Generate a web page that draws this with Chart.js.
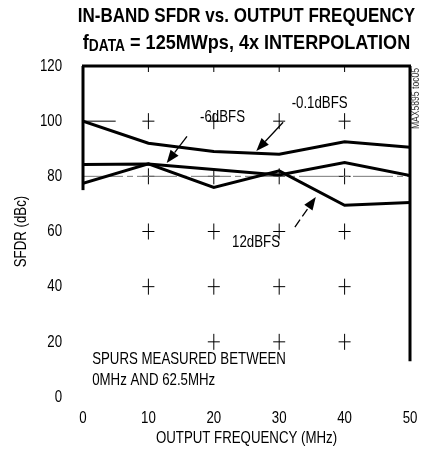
<!DOCTYPE html>
<html>
<head>
<meta charset="utf-8">
<script src="https://cdn.jsdelivr.net/npm/chart.js@4.4.1/dist/chart.umd.min.js"></script>
<style>
  html, body { margin: 0; padding: 0; background: #fff; }
  #wrap { width: 423px; height: 458px; position: relative; }
</style>
</head>
<body>
<div id="wrap"><canvas id="sfdrChart" width="423" height="458"></canvas></div>
<script>
// ======================================
// Data
// ======================================
const freqMHz = [0, 10, 20, 30, 40, 50];
const sfdrMinus01 = [100, 92, 89, 88, 92.5, 90.5];
const sfdrMinus6 = [84.3, 84.5, 82.5, 80.5, 85, 80.3];
const sfdrMinus12 = [77.5, 84.5, 76, 82, 69.5, 70.5];
const xTicks = [0, 10, 20, 30, 40, 50];
const yTicks = [0, 20, 40, 60, 80, 100, 120];

const FONT = "'Liberation Sans', Arial, sans-serif";
const SQUEEZE = 0.78;   // the original uses a narrow face

function toPoints(xs, ys) {
    return xs.map((x, i) => ({ x: x, y: ys[i] }));
}

// narrow text: regular face squeezed horizontally
function narrowText(ctx, text, x, y, size, opts) {
    opts = opts || {};
    const sx = opts.sx || SQUEEZE;
    ctx.save();
    ctx.font = (opts.bold ? 'bold ' : '') + size + 'px ' + FONT;
    ctx.textBaseline = 'middle';
    ctx.textAlign = opts.align || 'left';
    ctx.fillStyle = opts.color || '#000';
    ctx.translate(x, y);
    if (opts.rotate) ctx.rotate(opts.rotate);
    ctx.scale(sx, 1);
    ctx.fillText(text, 0, 0);
    ctx.restore();
}

function arrow(ctx, x1, y1, x2, y2, dashed) {
    const ang = Math.atan2(y2 - y1, x2 - x1);
    const len = 13, wid = 5;
    const bx = x2 - len * Math.cos(ang), by = y2 - len * Math.sin(ang);
    ctx.save();
    ctx.strokeStyle = '#000';
    ctx.fillStyle = '#000';
    ctx.lineWidth = 1.3;
    if (dashed) ctx.setLineDash([9, 4]);
    ctx.beginPath();
    ctx.moveTo(x1, y1);
    ctx.lineTo(bx, by);
    ctx.stroke();
    ctx.setLineDash([]);
    ctx.beginPath();
    ctx.moveTo(x2, y2);
    ctx.lineTo(bx + wid * Math.sin(ang), by - wid * Math.cos(ang));
    ctx.lineTo(bx - wid * Math.sin(ang), by + wid * Math.cos(ang));
    ctx.closePath();
    ctx.fill();
    ctx.restore();
}

// ======================================
// Decorations: frame, grid crosses, labels, arrows
// ======================================
const decorPlugin = {
    id: 'decor',
    beforeDatasetsDraw(chart) {
        const ctx = chart.ctx;
        const xs = chart.scales.x, ys = chart.scales.y;
        const X = v => xs.getPixelForValue(v);
        const Y = v => ys.getPixelForValue(v);
        ctx.save();
        // crosses at grid intersections (what survived on the scan)
        ctx.strokeStyle = '#000';
        ctx.lineWidth = 1;
        for (const gx of [10, 20, 30, 40]) {
            for (const gy of [20, 40, 60, 80, 100]) {
                if (gx === 10 && gy === 20) continue;
                ctx.beginPath();
                ctx.moveTo(X(gx) - 6, Y(gy));
                ctx.lineTo(X(gx) + 6, Y(gy));
                ctx.moveTo(X(gx), Y(gy) - 8);
                ctx.lineTo(X(gx), Y(gy) + 8);
                ctx.stroke();
            }
            // stubs hanging from the top border
            ctx.beginPath();
            ctx.moveTo(X(gx), Y(120));
            ctx.lineTo(X(gx), Y(120) + 6);
            ctx.stroke();
        }
        // faint gridline at 80 and a stub at 100
        ctx.strokeStyle = '#777';
        ctx.setLineDash([40, 4, 6, 4]);
        ctx.beginPath();
        ctx.moveTo(X(0), Y(80));
        ctx.lineTo(X(50), Y(80));
        ctx.stroke();
        ctx.setLineDash([]);
        ctx.strokeStyle = '#000';
        ctx.beginPath();
        ctx.moveTo(X(0), Y(100));
        ctx.lineTo(X(5), Y(100));
        ctx.stroke();
        // frame pieces
        ctx.lineWidth = 3;
        ctx.beginPath();
        ctx.moveTo(X(0) - 1, Y(120));
        ctx.lineTo(X(50) + 1, Y(120));
        ctx.stroke();
        ctx.beginPath();
        ctx.moveTo(X(0), Y(120));
        ctx.lineTo(X(0), Y(75));
        ctx.stroke();
        ctx.beginPath();
        ctx.moveTo(X(50), Y(120));
        ctx.lineTo(X(50), Y(13));
        ctx.stroke();
        ctx.restore();
    },
    afterDraw(chart) {
        const ctx = chart.ctx;
        const area = chart.chartArea;
        const xs = chart.scales.x, ys = chart.scales.y;
        const X = v => xs.getPixelForValue(v);
        const Y = v => ys.getPixelForValue(v);
        const cx = (area.left + area.right) / 2;

        // tick labels from the scales
        xs.ticks.forEach(t => narrowText(ctx, String(t.value), X(t.value), 418, 17, { align: 'center' }));
        ys.ticks.forEach(t => narrowText(ctx, String(t.value), 62, Y(t.value), 17, { align: 'right' }));

        // title, line 1
        narrowText(ctx, 'IN-BAND SFDR vs. OUTPUT FREQUENCY', cx, 16, 21, { bold: true, align: 'center', sx: 0.81 });
        // title, line 2 with subscript
        ctx.save();
        const sx = 0.86;
        ctx.font = 'bold 21px ' + FONT;
        const p1 = 'f', sub = 'DATA', p2 = ' = 125MWps, 4x INTERPOLATION';
        const w1 = ctx.measureText(p1).width * sx, w3 = ctx.measureText(p2).width * sx;
        ctx.font = 'bold 16px ' + FONT;
        const w2 = ctx.measureText(sub).width * sx;
        ctx.restore();
        const x0 = cx - (w1 + w2 + w3) / 2;
        narrowText(ctx, p1, x0, 43, 21, { bold: true, sx: sx });
        narrowText(ctx, sub, x0 + w1, 47, 16, { bold: true, sx: sx });
        narrowText(ctx, p2, x0 + w1 + w2, 43, 21, { bold: true, sx: sx });

        // axis titles
        narrowText(ctx, 'OUTPUT FREQUENCY (MHz)', cx, 438, 17, { align: 'center' });
        narrowText(ctx, 'SFDR (dBc)', 21, (area.top + area.bottom) / 2, 17,
            { align: 'center', rotate: -Math.PI / 2 });

        // part number tag
        narrowText(ctx, 'MAX5895 toc05', 416, Y(120) + 2, 11,
            { align: 'right', rotate: -Math.PI / 2, color: '#333' });

        // curve labels
        narrowText(ctx, '-6dBFS', X(17.9), Y(101.5), 17);
        narrowText(ctx, '-0.1dBFS', X(31.9), Y(106.6), 17);
        narrowText(ctx, '12dBFS', X(22.8), Y(56.2), 17);
        narrowText(ctx, 'SPURS MEASURED BETWEEN', X(1.4), Y(13.8), 17);
        narrowText(ctx, '0MHz AND 62.5MHz', X(1.4), Y(6.2), 17);

        // pointer arrows
        arrow(ctx, X(15.9), Y(94.5), X(12.8), Y(84.8), false);
        arrow(ctx, X(30.6), Y(99.6), X(26.5), Y(89.2), false);
        arrow(ctx, X(32.4), Y(61.6), X(35.6), Y(72.5), true);
    }
};

// ======================================
// Chart
// ======================================
function createSfdrChart() {
    const ctx = document.getElementById('sfdrChart');
    if (!ctx) return;

    const lineStyle = {
        borderColor: '#000',
        borderWidth: 3,
        pointRadius: 0,
        tension: 0,
        fill: false
    };

    new Chart(ctx, {
        type: 'line',
        data: {
            datasets: [
                Object.assign({ label: '-0.1dBFS', data: toPoints(freqMHz, sfdrMinus01) }, lineStyle),
                Object.assign({ label: '-6dBFS', data: toPoints(freqMHz, sfdrMinus6) }, lineStyle),
                Object.assign({ label: '-12dBFS', data: toPoints(freqMHz, sfdrMinus12) }, lineStyle)
            ]
        },
        options: {
            responsive: false,
            animation: false,
            layout: {
                padding: { top: 66, right: 13, left: 0, bottom: 0 }
            },
            plugins: {
                legend: { display: false },
                title: { display: false },
                tooltip: { enabled: false }
            },
            scales: {
                x: {
                    type: 'linear',
                    min: 0,
                    max: 50,
                    border: { display: false },
                    grid: { display: false },
                    afterFit(scale) { scale.height = 61; },
                    afterBuildTicks(scale) { scale.ticks = xTicks.map(v => ({ value: v })); },
                    ticks: { display: false }
                },
                y: {
                    min: 0,
                    max: 120,
                    border: { display: false },
                    grid: { display: false },
                    afterFit(scale) { scale.width = 83; },
                    afterBuildTicks(scale) { scale.ticks = yTicks.map(v => ({ value: v })); },
                    ticks: { display: false }
                }
            }
        },
        plugins: [decorPlugin]
    });
}

createSfdrChart();
</script>
</body>
</html>
